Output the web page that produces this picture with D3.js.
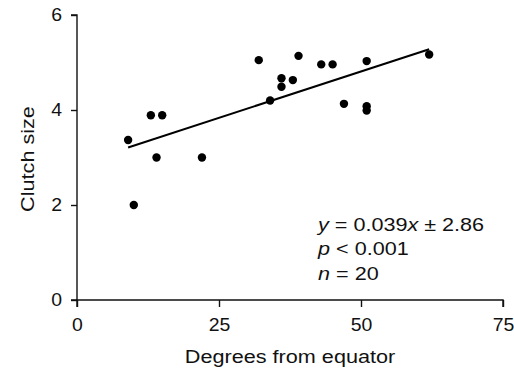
<!DOCTYPE html>
<html>
<head>
<meta charset="utf-8">
<script src="https://cdn.jsdelivr.net/npm/d3@7"></script>
<style>
  html, body { margin: 0; padding: 0; background: #fff; }
  svg text { font-family: "Liberation Sans", Arial, Helvetica, sans-serif; fill: #111; }
</style>
</head>
<body>
<svg id="chart" width="514" height="370"></svg>
<script>
// degrees from equator vs clutch size
const degrees = [9, 10, 13, 15, 14, 22, 32, 34, 36, 36, 38, 39, 43, 45, 51, 47, 51, 51, 62];
const clutch  = [3.37, 2.0, 3.89, 3.89, 3.0, 3.0, 5.05, 4.2, 4.67, 4.49, 4.63, 5.14, 4.96, 4.96, 5.03, 4.13, 4.08, 3.99, 5.17];
const xTicks = [0, 25, 50, 75];
const yTicks = [0, 2, 4, 6];
const fitSlope = 0.039, fitIntercept = 2.86, fitRange = [9, 62];
const statLines = [
  [["y", true], [" = 0.039", false], ["x", true], [" ± 2.86", false]],
  [["p", true], [" < 0.001", false]],
  [["n", true], [" = 20", false]]
];

// the original font is a bit wider than Liberation Sans
const wide = 1.17;
const tickWide = 1.08;
const fontSize = "18.5px";

const svg = d3.select("#chart");
const margin = { left: 77, right: 11, top: 15, bottom: 70 };
const width = 514 - margin.left - margin.right;
const height = 370 - margin.top - margin.bottom;

const g = svg.append("g").attr("transform", `translate(${margin.left},${margin.top})`);

const x = d3.scaleLinear().domain([0, 75]).range([0, width]);
const y = d3.scaleLinear().domain([0, 6]).range([height, 0]);

const xAxis = g.append("g")
  .attr("transform", `translate(0,${height})`)
  .call(d3.axisBottom(x).tickValues(xTicks).tickSize(7).tickPadding(11).tickFormat(d3.format("d")));
const yAxis = g.append("g")
  .call(d3.axisLeft(y).tickValues(yTicks).tickSize(6).tickPadding(9).tickFormat(d3.format("d")));

[xAxis, yAxis].forEach(a => {
  a.select(".domain").attr("stroke", "#111").attr("stroke-width", 1.4);
  a.selectAll(".tick line").attr("stroke", "#111").attr("stroke-width", 1.4);
  a.selectAll(".tick text")
    .style("font-size", "18px")
    .style("font-family", "Liberation Sans, Arial, sans-serif")
    .attr("fill", "#111");
});
// widen tick labels around their anchor points
xAxis.selectAll(".tick text").each(function () {
  const t = d3.select(this);
  const ty = +t.attr("y");
  t.attr("y", 0).attr("transform", `translate(0,${ty}) scale(${tickWide},1)`);
});
yAxis.selectAll(".tick text").each(function () {
  const t = d3.select(this);
  const tx = +t.attr("x");
  t.attr("x", 0).attr("transform", `translate(${tx},0) scale(${tickWide},1)`);
});
yAxis.select(".domain").attr("d", `M-6,0H0V${height}H-6`);
xAxis.select(".domain").attr("d", `M0,7V0H${width}V7`);

// regression line
g.append("line")
  .attr("x1", x(fitRange[0])).attr("y1", y(fitSlope * fitRange[0] + fitIntercept))
  .attr("x2", x(fitRange[1])).attr("y2", y(fitSlope * fitRange[1] + fitIntercept))
  .attr("stroke", "#000").attr("stroke-width", 2);

// points
g.selectAll("circle.pt")
  .data(degrees.map((d, i) => ({ d, c: clutch[i] })))
  .join("circle")
  .attr("class", "pt")
  .attr("cx", p => x(p.d))
  .attr("cy", p => y(p.c))
  .attr("r", 4.2)
  .attr("fill", "#000");

// statistics text
const stats = svg.append("text")
  .attr("transform", `translate(318,231) scale(1.2,1)`)
  .style("font-size", "18px");
statLines.forEach((parts, i) => {
  parts.forEach(([txt, ital], j) => {
    const t = stats.append("tspan").text(txt);
    if (j === 0) t.attr("x", 0).attr("y", [0, 24, 49][i]);
    if (ital) t.style("font-style", "italic");
  });
});

// axis titles
svg.append("text")
  .attr("transform", `translate(${margin.left + x(37.5)},363) scale(${wide},1)`)
  .attr("text-anchor", "middle")
  .style("font-size", fontSize)
  .text("Degrees from equator");

svg.append("text")
  .attr("transform", `translate(34,159) rotate(-90) scale(${wide},1)`)
  .attr("text-anchor", "middle")
  .style("font-size", fontSize)
  .text("Clutch size");
</script>
</body>
</html>
